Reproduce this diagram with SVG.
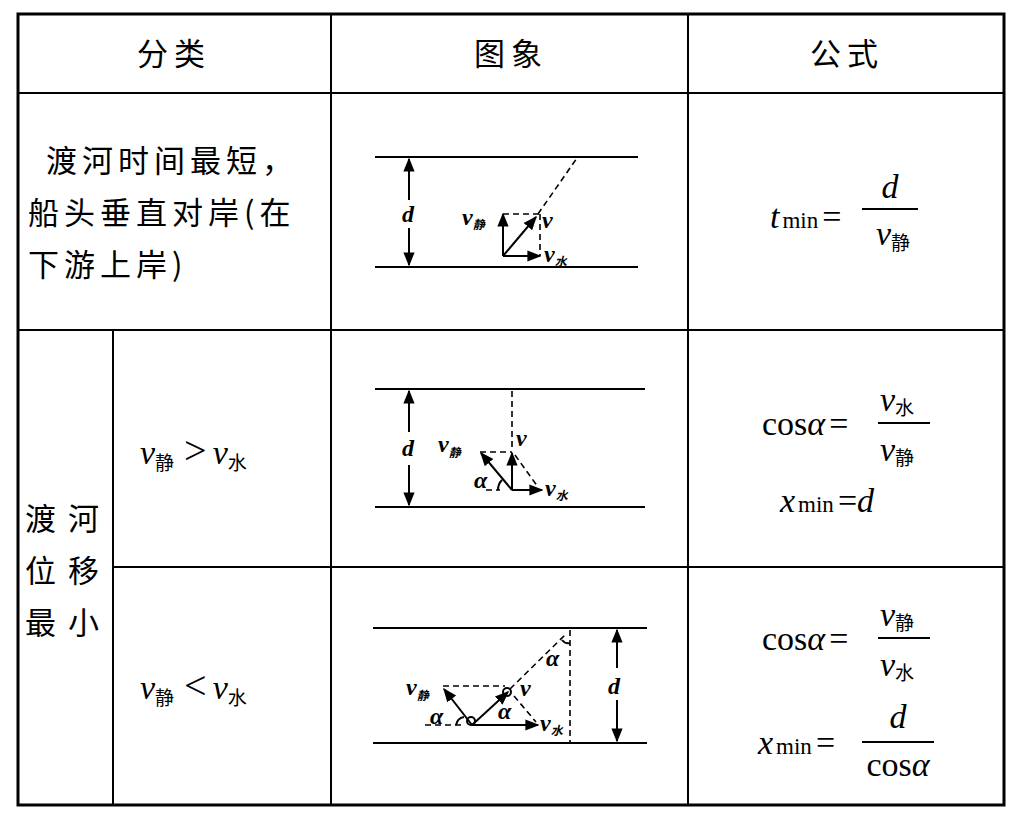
<svg xmlns="http://www.w3.org/2000/svg" width="1020" height="819" viewBox="0 0 1020 819">
<defs>
<marker id="ah" viewBox="0 0 10 10" refX="9" refY="5" markerWidth="7" markerHeight="7" orient="auto-start-reverse"><path d="M0,1 L10,5 L0,9 Z" fill="#000"/></marker>
</defs>
<style>
.g{stroke:#000;stroke-width:2;fill:none}
.r{stroke:#000;stroke-width:2}
.a{stroke:#000;stroke-width:2;marker-end:url(#ah);fill:none}
.dd{stroke:#000;stroke-width:1.6;stroke-dasharray:6,4;fill:none}
.cn{font-family:"Noto Sans CJK SC",sans-serif;font-size:31px;fill:#000}
.m{font-family:"Liberation Serif",serif;font-size:34px;fill:#000}
.i{font-style:italic}
.s{font-family:"Noto Sans CJK SC",sans-serif;font-size:19px}
.dl{font-family:"Liberation Serif",serif;font-style:italic;font-weight:bold;font-size:24px;fill:#000}
.ds{font-family:"Noto Sans CJK SC",sans-serif;font-weight:bold;font-size:12px}
</style>
<rect width="1020" height="819" fill="#fff"/>
<g id="table">
<rect x="18" y="14" width="986" height="791" fill="none" stroke="#000" stroke-width="3"/>
<line class="g" x1="18" y1="93" x2="1004" y2="93"/>
<line class="g" x1="18" y1="330" x2="1004" y2="330"/>
<line class="g" x1="113" y1="567" x2="1004" y2="567"/>
<line class="g" x1="113" y1="330" x2="113" y2="805"/>
<line class="g" x1="331" y1="14" x2="331" y2="805"/>
<line class="g" x1="688" y1="14" x2="688" y2="805"/>
</g>
<g id="headers">
<text class="cn" x="137" y="65" letter-spacing="6">分类</text>
<text class="cn" x="474" y="65" letter-spacing="6">图象</text>
<text class="cn" x="810" y="65" letter-spacing="6">公式</text>
</g>
<g id="row1-text">
<text class="cn" x="46" y="172" letter-spacing="5">渡河时间最短，</text>
<text class="cn" x="28" y="224" letter-spacing="5">船头垂直对岸(在</text>
<text class="cn" x="28" y="276" letter-spacing="5">下游上岸)</text>
</g>
<g id="row2-text">
<text class="cn" x="25" y="530" letter-spacing="12">渡河</text>
<text class="cn" x="25" y="582" letter-spacing="12">位移</text>
<text class="cn" x="25" y="634" letter-spacing="12">最小</text>
<text class="m" x="140" y="464"><tspan class="i">v</tspan><tspan class="s" dy="6">静</tspan><tspan dy="-6" dx="10" font-size="40">&gt;</tspan><tspan class="i" dx="6">v</tspan><tspan class="s" dy="6">水</tspan></text>
<text class="m" x="140" y="699"><tspan class="i">v</tspan><tspan class="s" dy="6">静</tspan><tspan dy="-6" dx="10" font-size="40">&lt;</tspan><tspan class="i" dx="6">v</tspan><tspan class="s" dy="6">水</tspan></text>
</g>
<g id="formulas">
<text class="m" x="770" y="228"><tspan class="i">t</tspan><tspan font-size="23" dx="3">min</tspan><tspan dx="4">=</tspan></text>
<line class="r" x1="862" y1="209" x2="918" y2="209" stroke-width="1.5"/>
<text class="m i" x="890" y="198" text-anchor="middle">d</text>
<text class="m" x="876" y="245"><tspan class="i">v</tspan><tspan class="s" dy="5">静</tspan></text>
<text class="m" x="762" y="435">cos<tspan class="i">α</tspan><tspan dx="4">=</tspan></text>
<line class="r" x1="878" y1="423" x2="930" y2="423" stroke-width="1.5"/>
<text class="m" x="880" y="411"><tspan class="i">v</tspan><tspan class="s" dy="4">水</tspan></text>
<text class="m" x="880" y="461"><tspan class="i">v</tspan><tspan class="s" dy="4">静</tspan></text>
<text class="m" x="780" y="512"><tspan class="i">x</tspan><tspan font-size="23" dx="3">min</tspan><tspan dx="4">=</tspan><tspan class="i">d</tspan></text>
<text class="m" x="762" y="650">cos<tspan class="i">α</tspan><tspan dx="4">=</tspan></text>
<line class="r" x1="878" y1="638" x2="930" y2="638" stroke-width="1.5"/>
<text class="m" x="880" y="626"><tspan class="i">v</tspan><tspan class="s" dy="4">静</tspan></text>
<text class="m" x="880" y="676"><tspan class="i">v</tspan><tspan class="s" dy="4">水</tspan></text>
<text class="m" x="758" y="754"><tspan class="i">x</tspan><tspan font-size="23" dx="3">min</tspan><tspan dx="4">=</tspan></text>
<line class="r" x1="862" y1="742" x2="934" y2="742" stroke-width="1.5"/>
<text class="m i" x="898" y="728" text-anchor="middle">d</text>
<text class="m" x="898" y="776" text-anchor="middle">cos<tspan class="i">α</tspan></text>
</g>
<g id="diagram1">
<line class="g" x1="375" y1="157" x2="638" y2="157"/>
<line class="g" x1="375" y1="267" x2="638" y2="267"/>
<line class="a" x1="409" y1="200" x2="409" y2="159"/>
<line class="a" x1="409" y1="228" x2="409" y2="265"/>
<text class="dl" x="402" y="222">d</text>
<line class="dd" x1="503" y1="214" x2="540" y2="214"/>
<line class="dd" x1="540" y1="214" x2="540" y2="256"/>
<line class="dd" x1="538" y1="214" x2="577" y2="158"/>
<line class="a" x1="503" y1="256" x2="503" y2="214"/>
<line class="a" x1="503" y1="256" x2="540" y2="256"/>
<line class="a" x1="503" y1="256" x2="536" y2="217"/>
<text class="dl" x="462" y="225">v<tspan class="ds" dy="4">静</tspan></text>
<text class="dl" x="542" y="228">v</text>
<text class="dl" x="544" y="262">v<tspan class="ds" dy="4">水</tspan></text>
</g>
<g id="diagram2">
<line class="g" x1="375" y1="389" x2="645" y2="389"/>
<line class="g" x1="375" y1="507" x2="645" y2="507"/>
<line class="a" x1="409" y1="432" x2="409" y2="391"/>
<line class="a" x1="409" y1="465" x2="409" y2="505"/>
<text class="dl" x="402" y="456">d</text>
<line class="dd" x1="512" y1="391" x2="512" y2="450"/>
<line class="dd" x1="480" y1="452" x2="512" y2="452"/>
<line class="dd" x1="515" y1="455" x2="538" y2="487"/>
<line class="dd" x1="486" y1="490" x2="500" y2="490"/>
<path d="M498,490 A14,14 0 0 1 502,480" class="g" stroke-width="1.5"/>
<line class="a" x1="512" y1="490" x2="512" y2="453"/>
<line class="a" x1="512" y1="490" x2="542" y2="490"/>
<line class="a" x1="512" y1="490" x2="481" y2="453"/>
<text class="dl" x="438" y="452">v<tspan class="ds" dy="5">静</tspan></text>
<text class="dl" x="516" y="446">v</text>
<text class="dl" x="474" y="488">α</text>
<text class="dl" x="545" y="496">v<tspan class="ds" dy="4">水</tspan></text>
</g>
<g id="diagram3">
<line class="g" x1="373" y1="628" x2="647" y2="628"/>
<line class="g" x1="373" y1="743" x2="647" y2="743"/>
<line class="a" x1="617" y1="668" x2="617" y2="630"/>
<line class="a" x1="617" y1="700" x2="617" y2="741"/>
<text class="dl" x="608" y="694">d</text>
<line class="dd" x1="570" y1="630" x2="570" y2="743"/>
<line class="dd" x1="510" y1="689" x2="567" y2="633"/>
<line class="dd" x1="443" y1="686" x2="505" y2="686"/>
<line class="dd" x1="514" y1="696" x2="536" y2="722"/>
<line class="dd" x1="425" y1="725" x2="462" y2="725"/>
<path d="M562,640 A8,8 0 0 0 570,643" class="g" stroke-width="1.2"/>
<circle cx="471" cy="721" r="4" class="g" stroke-width="1.5"/>
<circle cx="507" cy="692" r="4" class="g" stroke-width="1.5"/>
<path d="M456,725 A10,10 0 0 1 464,717" class="g" stroke-width="1.5"/>
<line class="a" x1="472" y1="725" x2="538" y2="725"/>
<line class="a" x1="472" y1="725" x2="444" y2="689"/>
<line class="a" x1="472" y1="725" x2="508" y2="692"/>
<text class="dl" x="406" y="695">v<tspan class="ds" dy="5">静</tspan></text>
<text class="dl" x="520" y="696">v</text>
<text class="dl" x="430" y="724">α</text>
<text class="dl" x="498" y="719">α</text>
<text class="dl" x="546" y="666">α</text>
<text class="dl" x="540" y="731">v<tspan class="ds" dy="4">水</tspan></text>
</g>
</svg>
